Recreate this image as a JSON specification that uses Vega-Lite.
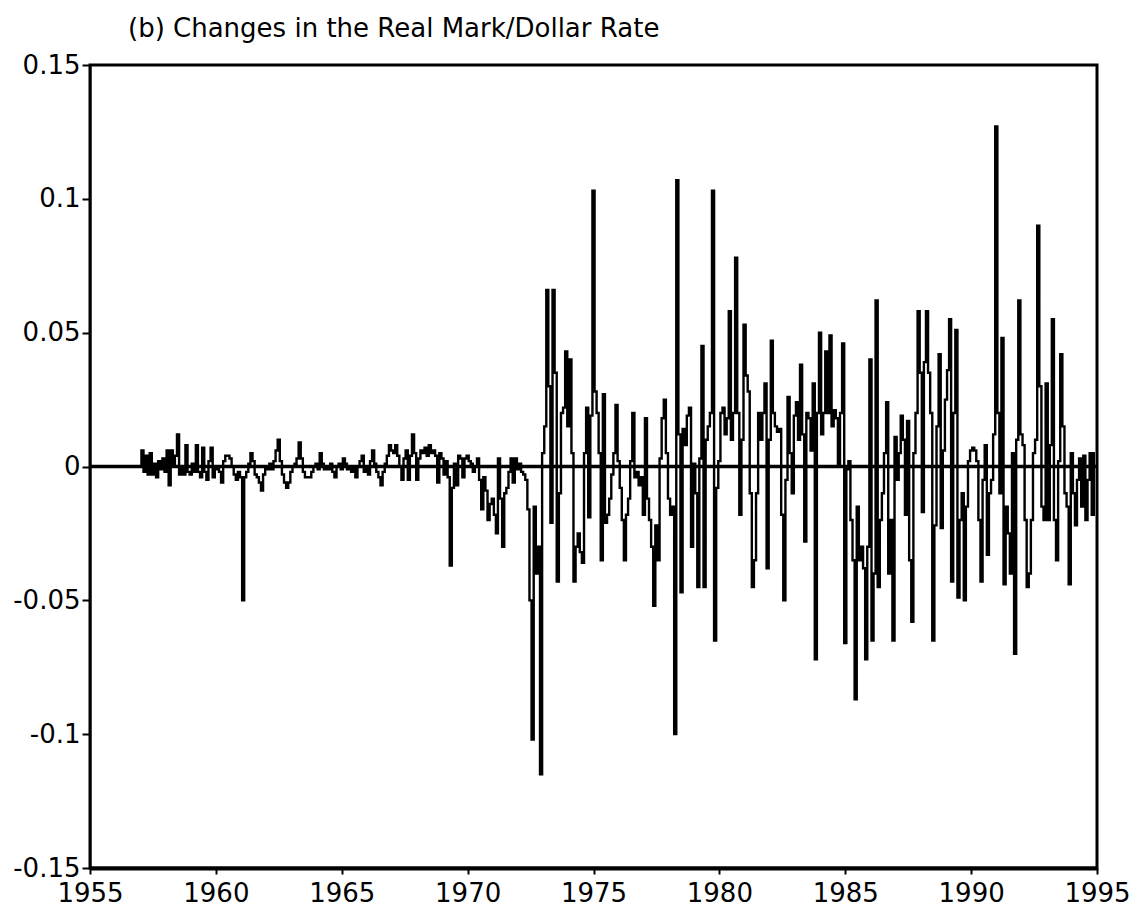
{
  "$schema": "https://vega.github.io/schema/vega-lite/v6.json",
  "autosize": "none",
  "width": 1007,
  "height": 803,
  "padding": {"left": 90, "top": 65, "right": 45, "bottom": 55},
  "background": "white",
  "title": {
    "text": "(b) Changes in the Real Mark/Dollar Rate",
    "anchor": "start",
    "frame": "group",
    "offset": 10,
    "dx": 38,
    "font": "DejaVu Sans",
    "fontSize": 26,
    "fontWeight": "normal",
    "color": "black"
  },
  "config": {
    "view": {"stroke": "black", "strokeWidth": 3},
    "axis": {
      "grid": false,
      "domainColor": "black",
      "tickColor": "black",
      "labelColor": "black",
      "labelFont": "DejaVu Sans",
      "labelFontSize": 26,
      "title": null
    }
  },
  "layer": [
    {
      "data": {
        "format": {"parse": {"d": "utc:'%Y-%m'"}},
        "values": [
          {"d":"1957-01","v":0.0},{"d":"1957-02","v":0.006},{"d":"1957-03","v":-0.002},{"d":"1957-04","v":0.004},{"d":"1957-05","v":-0.003},{"d":"1957-06","v":0.005},{"d":"1957-07","v":-0.003},{"d":"1957-08","v":0.001},{"d":"1957-09","v":-0.004},{"d":"1957-10","v":0.002},{"d":"1957-11","v":-0.001},{"d":"1957-12","v":0.003},
          {"d":"1958-01","v":-0.002},{"d":"1958-02","v":0.006},{"d":"1958-03","v":-0.007},{"d":"1958-04","v":0.006},{"d":"1958-05","v":0.001},{"d":"1958-06","v":0.004},{"d":"1958-07","v":0.012},{"d":"1958-08","v":-0.003},{"d":"1958-09","v":0.0},{"d":"1958-10","v":-0.003},{"d":"1958-11","v":0.008},{"d":"1958-12","v":-0.002},
          {"d":"1959-01","v":-0.003},{"d":"1959-02","v":0.001},{"d":"1959-03","v":-0.002},{"d":"1959-04","v":0.008},{"d":"1959-05","v":-0.002},{"d":"1959-06","v":-0.004},{"d":"1959-07","v":0.007},{"d":"1959-08","v":-0.002},{"d":"1959-09","v":-0.005},{"d":"1959-10","v":0.002},{"d":"1959-11","v":0.007},{"d":"1959-12","v":-0.004},
          {"d":"1960-01","v":0.0},{"d":"1960-02","v":-0.001},{"d":"1960-03","v":-0.002},{"d":"1960-04","v":-0.006},{"d":"1960-05","v":0.002},{"d":"1960-06","v":0.004},{"d":"1960-07","v":0.004},{"d":"1960-08","v":0.003},{"d":"1960-09","v":0.0},{"d":"1960-10","v":-0.003},{"d":"1960-11","v":-0.005},{"d":"1960-12","v":-0.002},
          {"d":"1961-01","v":-0.004},{"d":"1961-02","v":-0.05},{"d":"1961-03","v":-0.004},{"d":"1961-04","v":-0.002},{"d":"1961-05","v":0.001},{"d":"1961-06","v":0.005},{"d":"1961-07","v":0.002},{"d":"1961-08","v":-0.003},{"d":"1961-09","v":-0.004},{"d":"1961-10","v":-0.006},{"d":"1961-11","v":-0.009},{"d":"1961-12","v":-0.003},
          {"d":"1962-01","v":0.0},{"d":"1962-02","v":-0.001},{"d":"1962-03","v":0.001},{"d":"1962-04","v":-0.001},{"d":"1962-05","v":0.002},{"d":"1962-06","v":0.006},{"d":"1962-07","v":0.01},{"d":"1962-08","v":0.002},{"d":"1962-09","v":-0.003},{"d":"1962-10","v":-0.006},{"d":"1962-11","v":-0.008},{"d":"1962-12","v":-0.006},
          {"d":"1963-01","v":-0.002},{"d":"1963-02","v":0.0},{"d":"1963-03","v":0.001},{"d":"1963-04","v":0.003},{"d":"1963-05","v":0.009},{"d":"1963-06","v":0.003},{"d":"1963-07","v":-0.002},{"d":"1963-08","v":-0.004},{"d":"1963-09","v":-0.004},{"d":"1963-10","v":-0.004},{"d":"1963-11","v":-0.002},{"d":"1963-12","v":0.0},
          {"d":"1964-01","v":0.001},{"d":"1964-02","v":-0.001},{"d":"1964-03","v":0.005},{"d":"1964-04","v":0.001},{"d":"1964-05","v":-0.001},{"d":"1964-06","v":0.0},{"d":"1964-07","v":-0.001},{"d":"1964-08","v":0.001},{"d":"1964-09","v":-0.002},{"d":"1964-10","v":-0.004},{"d":"1964-11","v":0.0},{"d":"1964-12","v":0.001},
          {"d":"1965-01","v":-0.001},{"d":"1965-02","v":0.003},{"d":"1965-03","v":0.001},{"d":"1965-04","v":-0.001},{"d":"1965-05","v":0.0},{"d":"1965-06","v":-0.002},{"d":"1965-07","v":-0.001},{"d":"1965-08","v":-0.004},{"d":"1965-09","v":0.0},{"d":"1965-10","v":0.002},{"d":"1965-11","v":0.004},{"d":"1965-12","v":-0.002},
          {"d":"1966-01","v":0.0},{"d":"1966-02","v":-0.003},{"d":"1966-03","v":0.002},{"d":"1966-04","v":0.006},{"d":"1966-05","v":0.001},{"d":"1966-06","v":-0.002},{"d":"1966-07","v":-0.004},{"d":"1966-08","v":-0.007},{"d":"1966-09","v":-0.002},{"d":"1966-10","v":0.001},{"d":"1966-11","v":0.004},{"d":"1966-12","v":0.008},
          {"d":"1967-01","v":0.006},{"d":"1967-02","v":0.005},{"d":"1967-03","v":0.008},{"d":"1967-04","v":0.004},{"d":"1967-05","v":0.0},{"d":"1967-06","v":-0.005},{"d":"1967-07","v":0.003},{"d":"1967-08","v":0.006},{"d":"1967-09","v":-0.005},{"d":"1967-10","v":0.004},{"d":"1967-11","v":0.012},{"d":"1967-12","v":0.005},
          {"d":"1968-01","v":-0.005},{"d":"1968-02","v":0.003},{"d":"1968-03","v":0.006},{"d":"1968-04","v":0.005},{"d":"1968-05","v":0.007},{"d":"1968-06","v":0.004},{"d":"1968-07","v":0.008},{"d":"1968-08","v":0.005},{"d":"1968-09","v":0.006},{"d":"1968-10","v":0.004},{"d":"1968-11","v":-0.006},{"d":"1968-12","v":0.005},
          {"d":"1969-01","v":0.003},{"d":"1969-02","v":-0.003},{"d":"1969-03","v":0.002},{"d":"1969-04","v":-0.004},{"d":"1969-05","v":-0.037},{"d":"1969-06","v":-0.008},{"d":"1969-07","v":0.001},{"d":"1969-08","v":-0.007},{"d":"1969-09","v":0.004},{"d":"1969-10","v":0.003},{"d":"1969-11","v":-0.004},{"d":"1969-12","v":0.003},
          {"d":"1970-01","v":0.004},{"d":"1970-02","v":0.002},{"d":"1970-03","v":0.001},{"d":"1970-04","v":-0.002},{"d":"1970-05","v":0.0},{"d":"1970-06","v":0.003},{"d":"1970-07","v":-0.005},{"d":"1970-08","v":-0.016},{"d":"1970-09","v":-0.004},{"d":"1970-10","v":-0.009},{"d":"1970-11","v":-0.02},{"d":"1970-12","v":-0.014},
          {"d":"1971-01","v":-0.012},{"d":"1971-02","v":-0.018},{"d":"1971-03","v":-0.025},{"d":"1971-04","v":0.003},{"d":"1971-05","v":-0.012},{"d":"1971-06","v":-0.03},{"d":"1971-07","v":-0.01},{"d":"1971-08","v":-0.008},{"d":"1971-09","v":-0.002},{"d":"1971-10","v":0.003},{"d":"1971-11","v":-0.006},{"d":"1971-12","v":0.003},
          {"d":"1972-01","v":-0.001},{"d":"1972-02","v":0.001},{"d":"1972-03","v":-0.002},{"d":"1972-04","v":-0.003},{"d":"1972-05","v":-0.005},{"d":"1972-06","v":-0.016},{"d":"1972-07","v":-0.05},{"d":"1972-08","v":-0.102},{"d":"1972-09","v":-0.015},{"d":"1972-10","v":-0.04},{"d":"1972-11","v":-0.03},{"d":"1972-12","v":-0.115},
          {"d":"1973-01","v":0.005},{"d":"1973-02","v":0.015},{"d":"1973-03","v":0.066},{"d":"1973-04","v":0.03},{"d":"1973-05","v":-0.021},{"d":"1973-06","v":0.066},{"d":"1973-07","v":0.035},{"d":"1973-08","v":-0.043},{"d":"1973-09","v":-0.01},{"d":"1973-10","v":0.02},{"d":"1973-11","v":0.022},{"d":"1973-12","v":0.043},
          {"d":"1974-01","v":0.015},{"d":"1974-02","v":0.04},{"d":"1974-03","v":0.005},{"d":"1974-04","v":-0.043},{"d":"1974-05","v":-0.03},{"d":"1974-06","v":-0.025},{"d":"1974-07","v":-0.032},{"d":"1974-08","v":-0.036},{"d":"1974-09","v":0.005},{"d":"1974-10","v":0.022},{"d":"1974-11","v":-0.019},{"d":"1974-12","v":0.019},
          {"d":"1975-01","v":0.103},{"d":"1975-02","v":0.028},{"d":"1975-03","v":0.02},{"d":"1975-04","v":0.005},{"d":"1975-05","v":-0.035},{"d":"1975-06","v":0.027},{"d":"1975-07","v":-0.021},{"d":"1975-08","v":-0.018},{"d":"1975-09","v":-0.012},{"d":"1975-10","v":-0.003},{"d":"1975-11","v":0.005},{"d":"1975-12","v":0.023},
          {"d":"1976-01","v":0.002},{"d":"1976-02","v":-0.008},{"d":"1976-03","v":-0.02},{"d":"1976-04","v":-0.035},{"d":"1976-05","v":-0.018},{"d":"1976-06","v":-0.012},{"d":"1976-07","v":0.002},{"d":"1976-08","v":0.02},{"d":"1976-09","v":-0.004},{"d":"1976-10","v":-0.002},{"d":"1976-11","v":-0.007},{"d":"1976-12","v":-0.004},
          {"d":"1977-01","v":-0.018},{"d":"1977-02","v":0.018},{"d":"1977-03","v":-0.012},{"d":"1977-04","v":-0.02},{"d":"1977-05","v":-0.03},{"d":"1977-06","v":-0.052},{"d":"1977-07","v":-0.022},{"d":"1977-08","v":-0.035},{"d":"1977-09","v":0.003},{"d":"1977-10","v":0.018},{"d":"1977-11","v":0.025},{"d":"1977-12","v":0.005},
          {"d":"1978-01","v":-0.012},{"d":"1978-02","v":-0.018},{"d":"1978-03","v":-0.015},{"d":"1978-04","v":-0.1},{"d":"1978-05","v":0.107},{"d":"1978-06","v":0.012},{"d":"1978-07","v":-0.047},{"d":"1978-08","v":0.014},{"d":"1978-09","v":0.008},{"d":"1978-10","v":0.019},{"d":"1978-11","v":0.022},{"d":"1978-12","v":-0.03},
          {"d":"1979-01","v":0.001},{"d":"1979-02","v":-0.01},{"d":"1979-03","v":-0.045},{"d":"1979-04","v":0.003},{"d":"1979-05","v":0.045},{"d":"1979-06","v":-0.045},{"d":"1979-07","v":0.01},{"d":"1979-08","v":0.015},{"d":"1979-09","v":0.02},{"d":"1979-10","v":0.103},{"d":"1979-11","v":-0.065},{"d":"1979-12","v":-0.008},
          {"d":"1980-01","v":0.002},{"d":"1980-02","v":0.02},{"d":"1980-03","v":0.022},{"d":"1980-04","v":0.012},{"d":"1980-05","v":0.018},{"d":"1980-06","v":0.058},{"d":"1980-07","v":0.01},{"d":"1980-08","v":0.02},{"d":"1980-09","v":0.078},{"d":"1980-10","v":0.02},{"d":"1980-11","v":-0.018},{"d":"1980-12","v":0.01},
          {"d":"1981-01","v":0.053},{"d":"1981-02","v":0.034},{"d":"1981-03","v":0.028},{"d":"1981-04","v":-0.01},{"d":"1981-05","v":-0.045},{"d":"1981-06","v":-0.035},{"d":"1981-07","v":-0.01},{"d":"1981-08","v":0.02},{"d":"1981-09","v":0.01},{"d":"1981-10","v":0.02},{"d":"1981-11","v":0.031},{"d":"1981-12","v":-0.038},
          {"d":"1982-01","v":0.01},{"d":"1982-02","v":0.047},{"d":"1982-03","v":0.02},{"d":"1982-04","v":0.015},{"d":"1982-05","v":0.013},{"d":"1982-06","v":0.014},{"d":"1982-07","v":-0.018},{"d":"1982-08","v":-0.05},{"d":"1982-09","v":-0.005},{"d":"1982-10","v":0.026},{"d":"1982-11","v":0.005},{"d":"1982-12","v":-0.01},
          {"d":"1983-01","v":0.019},{"d":"1983-02","v":0.024},{"d":"1983-03","v":0.01},{"d":"1983-04","v":0.038},{"d":"1983-05","v":0.012},{"d":"1983-06","v":-0.028},{"d":"1983-07","v":0.02},{"d":"1983-08","v":0.018},{"d":"1983-09","v":0.006},{"d":"1983-10","v":0.031},{"d":"1983-11","v":-0.072},{"d":"1983-12","v":0.02},
          {"d":"1984-01","v":0.05},{"d":"1984-02","v":0.012},{"d":"1984-03","v":0.02},{"d":"1984-04","v":0.043},{"d":"1984-05","v":0.02},{"d":"1984-06","v":0.049},{"d":"1984-07","v":0.015},{"d":"1984-08","v":0.021},{"d":"1984-09","v":0.018},{"d":"1984-10","v":0.001},{"d":"1984-11","v":0.02},{"d":"1984-12","v":0.046},
          {"d":"1985-01","v":-0.066},{"d":"1985-02","v":-0.001},{"d":"1985-03","v":0.002},{"d":"1985-04","v":-0.02},{"d":"1985-05","v":-0.035},{"d":"1985-06","v":-0.087},{"d":"1985-07","v":-0.015},{"d":"1985-08","v":-0.035},{"d":"1985-09","v":-0.03},{"d":"1985-10","v":-0.038},{"d":"1985-11","v":-0.072},{"d":"1985-12","v":-0.03},
          {"d":"1986-01","v":0.04},{"d":"1986-02","v":-0.065},{"d":"1986-03","v":-0.04},{"d":"1986-04","v":0.062},{"d":"1986-05","v":-0.045},{"d":"1986-06","v":-0.02},{"d":"1986-07","v":-0.01},{"d":"1986-08","v":0.005},{"d":"1986-09","v":0.024},{"d":"1986-10","v":-0.04},{"d":"1986-11","v":-0.02},{"d":"1986-12","v":-0.065},
          {"d":"1987-01","v":0.011},{"d":"1987-02","v":-0.005},{"d":"1987-03","v":0.005},{"d":"1987-04","v":0.019},{"d":"1987-05","v":0.01},{"d":"1987-06","v":-0.018},{"d":"1987-07","v":0.017},{"d":"1987-08","v":-0.035},{"d":"1987-09","v":-0.058},{"d":"1987-10","v":0.005},{"d":"1987-11","v":0.02},{"d":"1987-12","v":0.058},
          {"d":"1988-01","v":0.035},{"d":"1988-02","v":-0.017},{"d":"1988-03","v":0.039},{"d":"1988-04","v":0.058},{"d":"1988-05","v":0.035},{"d":"1988-06","v":0.02},{"d":"1988-07","v":-0.065},{"d":"1988-08","v":-0.022},{"d":"1988-09","v":0.015},{"d":"1988-10","v":0.042},{"d":"1988-11","v":-0.023},{"d":"1988-12","v":0.006},
          {"d":"1989-01","v":0.025},{"d":"1989-02","v":0.036},{"d":"1989-03","v":0.055},{"d":"1989-04","v":-0.043},{"d":"1989-05","v":0.02},{"d":"1989-06","v":0.051},{"d":"1989-07","v":-0.049},{"d":"1989-08","v":-0.02},{"d":"1989-09","v":-0.01},{"d":"1989-10","v":-0.05},{"d":"1989-11","v":-0.015},{"d":"1989-12","v":0.002},
          {"d":"1990-01","v":0.006},{"d":"1990-02","v":0.007},{"d":"1990-03","v":0.006},{"d":"1990-04","v":0.002},{"d":"1990-05","v":-0.02},{"d":"1990-06","v":-0.043},{"d":"1990-07","v":-0.005},{"d":"1990-08","v":0.008},{"d":"1990-09","v":-0.033},{"d":"1990-10","v":-0.01},{"d":"1990-11","v":-0.005},{"d":"1990-12","v":0.012},
          {"d":"1991-01","v":0.127},{"d":"1991-02","v":0.02},{"d":"1991-03","v":-0.01},{"d":"1991-04","v":0.048},{"d":"1991-05","v":-0.044},{"d":"1991-06","v":-0.015},{"d":"1991-07","v":-0.025},{"d":"1991-08","v":-0.04},{"d":"1991-09","v":0.005},{"d":"1991-10","v":-0.07},{"d":"1991-11","v":0.01},{"d":"1991-12","v":0.062},
          {"d":"1992-01","v":0.012},{"d":"1992-02","v":0.008},{"d":"1992-03","v":-0.02},{"d":"1992-04","v":-0.045},{"d":"1992-05","v":-0.04},{"d":"1992-06","v":-0.02},{"d":"1992-07","v":0.005},{"d":"1992-08","v":0.01},{"d":"1992-09","v":0.09},{"d":"1992-10","v":0.03},{"d":"1992-11","v":-0.015},{"d":"1992-12","v":-0.02},
          {"d":"1993-01","v":0.031},{"d":"1993-02","v":-0.02},{"d":"1993-03","v":0.008},{"d":"1993-04","v":0.055},{"d":"1993-05","v":-0.02},{"d":"1993-06","v":-0.035},{"d":"1993-07","v":0.002},{"d":"1993-08","v":0.042},{"d":"1993-09","v":0.015},{"d":"1993-10","v":-0.01},{"d":"1993-11","v":-0.015},{"d":"1993-12","v":-0.044},
          {"d":"1994-01","v":0.005},{"d":"1994-02","v":-0.01},{"d":"1994-03","v":-0.022},{"d":"1994-04","v":-0.005},{"d":"1994-05","v":0.003},{"d":"1994-06","v":-0.015},{"d":"1994-07","v":0.004},{"d":"1994-08","v":-0.02},{"d":"1994-09","v":-0.005},{"d":"1994-10","v":0.005},{"d":"1994-11","v":-0.018},{"d":"1994-12","v":0.005}
        ]
      },
      "mark": {"type": "line", "color": "black", "strokeWidth": 2.4, "interpolate": "step"},
      "encoding": {
        "x": {
          "field": "d",
          "type": "temporal",
          "scale": {
            "type": "utc",
            "domain": [
              {"year": 1955, "month": 1, "date": 1, "utc": true},
              {"year": 1995, "month": 1, "date": 1, "utc": true}
            ]
          },
          "axis": {
            "tickCount": {"interval": "year", "step": 5},
            "format": "%Y",
            "formatType": "utc",
            "labelFlush": false,
            "domainWidth": 4,
            "tickWidth": 2,
            "tickSize": 6,
            "labelPadding": 6
          }
        },
        "y": {
          "field": "v",
          "type": "quantitative",
          "scale": {"domain": [-0.15, 0.15], "nice": false, "zero": false},
          "axis": {
            "values": [-0.15, -0.1, -0.05, 0, 0.05, 0.1, 0.15],
            "labelExpr": "'' + datum.value",
            "domainWidth": 2,
            "tickWidth": 2,
            "tickSize": 8,
            "labelPadding": 2
          }
        }
      }
    },
    {
      "data": {"values": [{"z": 0}]},
      "mark": {"type": "rule", "color": "black", "strokeWidth": 3.5},
      "encoding": {"y": {"field": "z", "type": "quantitative"}}
    }
  ]
}
